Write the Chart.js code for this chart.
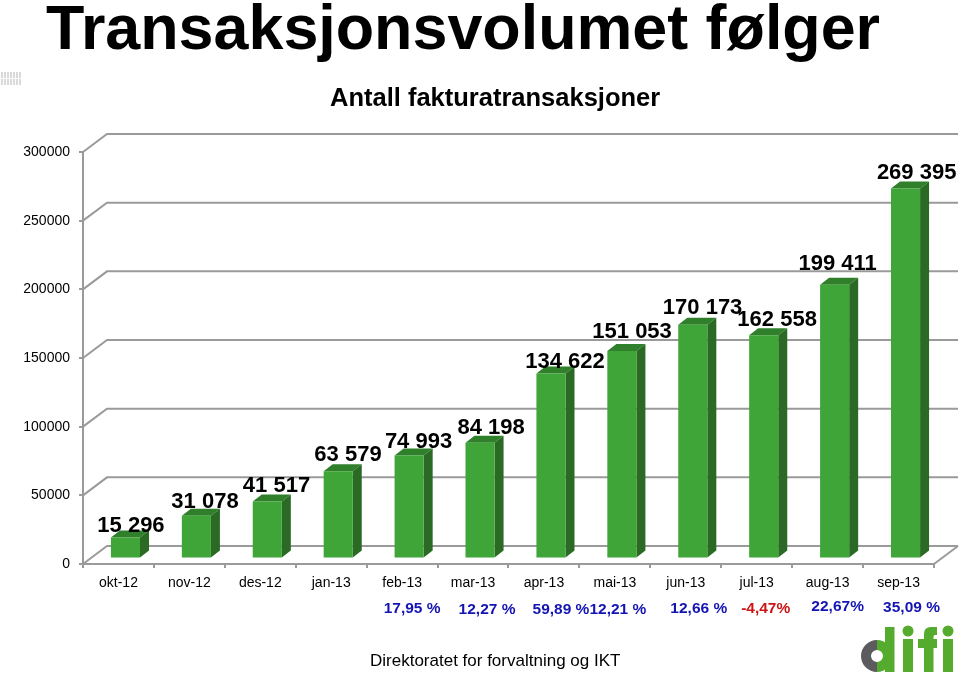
<!DOCTYPE html>
<html lang="no">
<head>
  <meta charset="UTF-8">
  <title>Transaksjonsvolumet følger</title>
  <script src="https://cdn.jsdelivr.net/npm/chart.js"></script>
  <style>
    html, body { margin: 0; padding: 0; background: #fff; }
    body { width: 960px; height: 677px; position: relative; overflow: hidden; font-family: "Liberation Sans", Arial, sans-serif; color: #000; }
    #graph { position: absolute; left: 0; top: 0; }
    .txt { position: absolute; white-space: nowrap; }
    #title { left: 46px; top: -9px; font-size: 62.8px; line-height: 72px; font-weight: bold; }
    #subtitle { left: 330px; top: 83px; font-size: 25.5px; line-height: 29px; font-weight: bold; }
    #footer { left: 370px; top: 651px; font-size: 17px; line-height: 20px; }
    #speck { position: absolute; left: 1px; top: 72px; width: 21px; height: 13px; opacity: .45;
      background: linear-gradient(#fff, #fff) 0 6px / 100% 1px no-repeat, repeating-linear-gradient(90deg, #aaa 0 2px, #fff 2px 3px); }
    #logo { position: absolute; left: 0; top: 0; }
  </style>
</head>
<body>
  <canvas id="graph" width="960" height="677"></canvas>
  <div class="txt" id="title">Transaksjonsvolumet følger</div>
  <div class="txt" id="subtitle">Antall fakturatransaksjoner</div>
  <div class="txt" id="footer">Direktoratet for forvaltning og IKT</div>
  <div id="speck"></div>

  <!-- difi logo -->
  <svg id="logo" width="960" height="677" aria-label="difi">
    <path d="M877 645 A11 11 0 0 0 877 667" fill="none" stroke="#5c5c60" stroke-width="10"/>
    <path d="M877 645 A11 11 0 0 1 877 667" fill="none" stroke="#55ab2e" stroke-width="10"/>
    <g fill="#55ab2e">
      <rect x="885" y="627" width="9.5" height="45"/>
      <rect x="903" y="639" width="10" height="33"/>
      <circle cx="908" cy="631" r="5.5"/>
      <path d="M924 672 V634 Q924 627 931 627 H937 V635 H935 Q933.5 635 933.5 637 V639 H937 V648 H933.5 V672 Z"/>
      <rect x="918" y="639" width="7" height="9"/>
      <rect x="943" y="639" width="10" height="33"/>
      <circle cx="948" cy="631" r="5.5"/>
    </g>
  </svg>

  <script>
    const months = ['okt-12', 'nov-12', 'des-12', 'jan-13', 'feb-13', 'mar-13', 'apr-13', 'mai-13', 'jun-13', 'jul-13', 'aug-13', 'sep-13'];
    const volumes = [15296, 31078, 41517, 63579, 74993, 84198, 134622, 151053, 170173, 162558, 199411, 269395];
    const volumeLabels = ['15 296', '31 078', '41 517', '63 579', '74 993', '84 198', '134 622', '151 053', '170 173', '162 558', '199 411', '269 395'];
    const growthLabels = [null, null, null, null, '17,95 %', '12,27 %', '59,89 %', '12,21 %', '12,66 %', '-4,47%', '22,67%', '35,09 %'];

    // the text boxes in the slide are placed by hand, so each one has its own nudge
    const labelDx = [5.5, 8.6, 9.2, 9.8, 9.4, 11, 14.1, 10.2, 9.8, 13.4, 3, 11.1];
    const labelDy = [-11.5, -13.8, -15.5, -16.2, -13.5, -14.9, -11.7, -19, -16.8, -15.3, -20.7, -15.6];
    const growthDx = [0, 0, 0, 0, 10, 14, 17, 3, 13, 9, 10, 13];
    const growthY = [0, 0, 0, 0, 609, 610, 610, 610, 609, 609, 607, 608];

    const wallX = 24, wallY = 18;       // depth of the floor and back wall
    const barX = 7, barY = 5.5;         // bars stand a bit into the floor
    const sideX = 9, sideY = 7;         // depth of each bar
    const gridColor = '#9a9a9a';

    const fake3d = {
      id: 'fake3d',
      beforeDatasetsDraw(chart) {
        const ctx = chart.ctx, y = chart.scales.y, a = chart.chartArea;
        ctx.save();
        ctx.strokeStyle = gridColor;
        ctx.lineWidth = 2;
        y.ticks.forEach(t => {
          const py = y.getPixelForValue(t.value);
          ctx.beginPath();
          ctx.moveTo(a.left, py);
          ctx.lineTo(a.left + wallX, py - wallY);
          ctx.lineTo(a.right + wallX, py - wallY);
          ctx.stroke();
        });
        // right edge of the floor
        ctx.beginPath();
        ctx.moveTo(a.right, a.bottom);
        ctx.lineTo(a.right + wallX, a.bottom - wallY);
        ctx.stroke();
        ctx.restore();
      },
      beforeDatasetDraw(chart) {
        const ctx = chart.ctx;
        ctx.save();
        ctx.translate(barX, -barY);
        chart.getDatasetMeta(0).data.forEach(bar => {
          const l = bar.x - bar.width / 2, r = bar.x + bar.width / 2;
          ctx.fillStyle = '#2f7f2b';
          ctx.beginPath();
          ctx.moveTo(l, bar.y);
          ctx.lineTo(l + sideX, bar.y - sideY);
          ctx.lineTo(r + sideX, bar.y - sideY);
          ctx.lineTo(r, bar.y);
          ctx.fill();
          ctx.fillStyle = '#2a6a25';
          ctx.beginPath();
          ctx.moveTo(r, bar.y);
          ctx.lineTo(r + sideX, bar.y - sideY);
          ctx.lineTo(r + sideX, bar.base - sideY);
          ctx.lineTo(r, bar.base);
          ctx.fill();
        });
      },
      afterDatasetDraw(chart) {
        chart.ctx.restore();
      },
      afterDraw(chart) {
        const ctx = chart.ctx, x = chart.scales.x;
        ctx.save();
        ctx.textAlign = 'center';
        ctx.textBaseline = 'middle';
        ctx.fillStyle = '#000';
        ctx.font = 'bold 22px "Liberation Sans", Arial, sans-serif';
        chart.getDatasetMeta(0).data.forEach((bar, i) => {
          ctx.fillText(volumeLabels[i], bar.x + barX + labelDx[i], bar.y - barY + labelDy[i]);
        });
        ctx.font = 'bold 15.5px "Liberation Sans", Arial, sans-serif';
        growthLabels.forEach((g, i) => {
          if (!g) return;
          ctx.fillStyle = g.startsWith('-') ? '#cc1414' : '#1414b4';
          ctx.fillText(g, x.getPixelForValue(i) + growthDx[i], growthY[i]);
        });
        ctx.restore();
      }
    };

    new Chart(document.getElementById('graph'), {
      type: 'bar',
      data: {
        labels: months,
        datasets: [{
          data: volumes,
          backgroundColor: '#3fa539',
          barPercentage: 0.41,
          categoryPercentage: 1
        }]
      },
      options: {
        responsive: false,
        animation: false,
        layout: { padding: { top: 152, right: 26 } },
        plugins: { legend: { display: false }, tooltip: { enabled: false } },
        scales: {
          x: {
            afterFit: s => { s.height = 113; },
            border: { color: gridColor, width: 2 },
            grid: { drawOnChartArea: false, color: gridColor, lineWidth: 2, tickLength: 4 },
            ticks: { color: '#000', font: { family: '"Liberation Sans", Arial, sans-serif', size: 14 }, padding: 7, maxRotation: 0, autoSkip: false }
          },
          y: {
            min: 0,
            max: 300000,
            afterFit: s => { s.width = 83; },
            border: { color: gridColor, width: 2 },
            grid: { drawOnChartArea: false, color: gridColor, lineWidth: 2, tickLength: 4 },
            ticks: { stepSize: 50000, color: '#000', font: { family: '"Liberation Sans", Arial, sans-serif', size: 14 }, padding: 9, callback: v => String(v) }
          }
        }
      },
      plugins: [fake3d]
    });
  </script>
</body>
</html>
